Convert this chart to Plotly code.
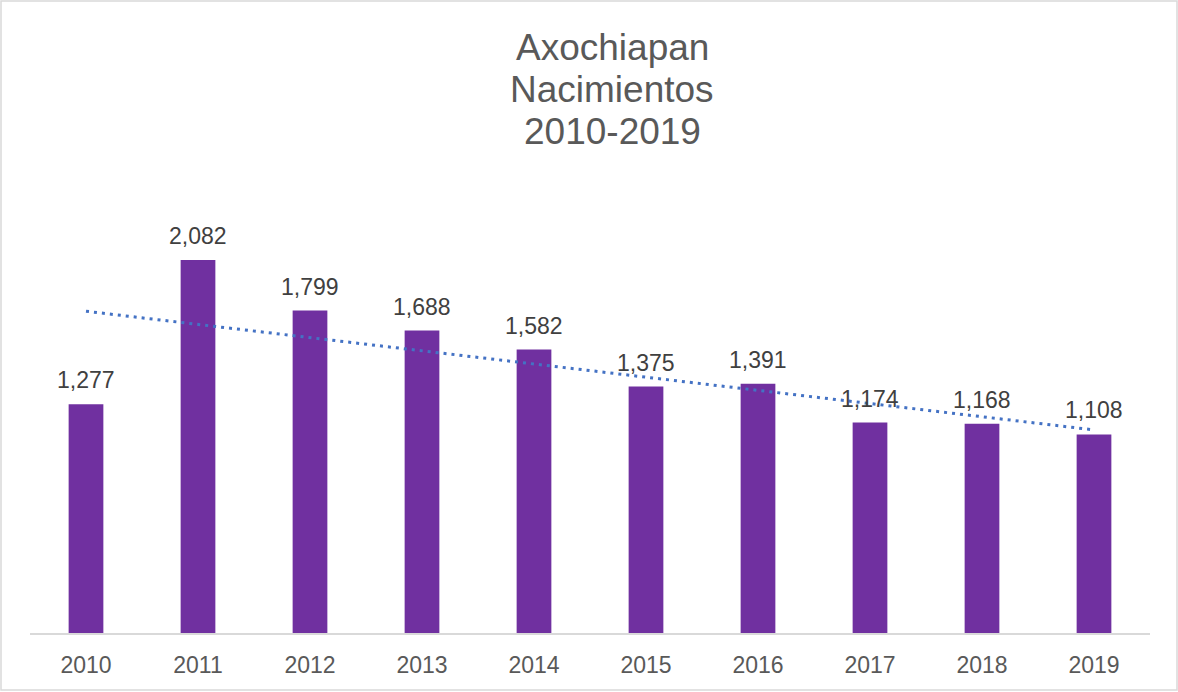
import numpy as np
import plotly.graph_objects as go

years = ["2010", "2011", "2012", "2013", "2014", "2015", "2016", "2017", "2018", "2019"]
births = [1277, 2082, 1799, 1688, 1582, 1375, 1391, 1174, 1168, 1108]
title_lines = ["Axochiapan", "Nacimientos", "2010-2019"]

W, H = 1178, 692
ML, MR, MT, MB = 30, 28, 185, 59
PW, PH = W - ML - MR, H - MT - MB

idx = np.arange(len(births))
slope, intercept = np.polyfit(idx, births, 1)
trend = slope * idx + intercept

fig = go.Figure()
fig.add_trace(go.Bar(
    x=years, y=births, width=0.31,
    marker=dict(color="#7030A0", line=dict(width=0)),
    hoverinfo="x+y", showlegend=False,
))
fig.add_trace(go.Scatter(
    x=years, y=trend, mode="lines",
    line=dict(color="#4472C4", width=3, dash="3px,5px"),
    hoverinfo="skip", showlegend=False,
))

annotations = []
for i, v in enumerate(births):
    annotations.append(dict(
        x=i, y=v, xref="x", yref="y", text=f"{v:,}", showarrow=False,
        yanchor="bottom", yshift=9,
        font=dict(family="Liberation Sans, Arial, sans-serif", size=23, color="#404040"),
    ))

def py(px):
    return (H - MB - px) / PH

def pxx(px):
    return (px - ML) / PW

title_y = [47, 89, 131]
for line, ty in zip(title_lines, title_y):
    annotations.append(dict(
        x=pxx(612), y=py(ty), xref="paper", yref="paper", text=line, showarrow=False,
        xanchor="center", yanchor="middle",
        font=dict(family="Liberation Sans, Arial, sans-serif", size=37, color="#595959"),
    ))

fig.update_layout(
    width=W, height=H,
    margin=dict(l=ML, r=MR, t=MT, b=MB, pad=0),
    paper_bgcolor="white", plot_bgcolor="white",
    annotations=annotations,
    shapes=[dict(
        type="rect", xref="paper", yref="paper",
        x0=pxx(1), x1=pxx(W - 1), y0=py(H - 2), y1=py(1),
        line=dict(color="#D9D9D9", width=1.5), fillcolor="rgba(0,0,0,0)", layer="below",
    )],
    xaxis=dict(
        type="category", range=[-0.5, len(years) - 0.5],
        showgrid=False, zeroline=False,
        showline=True, linecolor="#D9D9D9", linewidth=2,
        ticks="", ticklabelstandoff=10,
        tickfont=dict(family="Liberation Sans, Arial, sans-serif", size=23, color="#595959"),
    ),
    yaxis=dict(
        range=[0, 2500], showgrid=False, zeroline=False, showline=False,
        showticklabels=False, ticks="",
    ),
    bargap=0.69,
)

fig.write_html(
    "out.html",
    config={"displayModeBar": False},
    post_script="document.body.style.margin='0';document.body.style.overflow='hidden';",
)
